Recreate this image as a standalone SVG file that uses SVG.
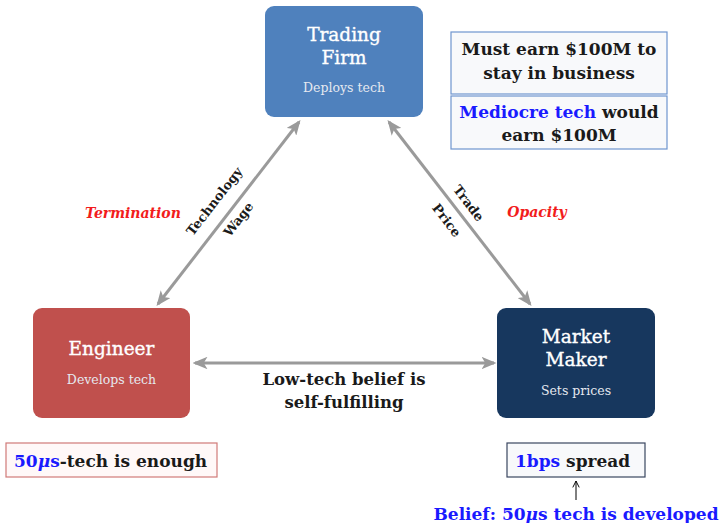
<svg xmlns="http://www.w3.org/2000/svg" width="720" height="523" viewBox="0 0 720 523">
<style>
.t{font-family:"DejaVu Serif","Liberation Serif",serif;}
.title{font-size:18.5px;fill:#fff;stroke:#fff;stroke-width:0.35px;text-anchor:middle;}
.sub{font-size:12.5px;fill:#e6e9f0;text-anchor:middle;}
.b{font-weight:bold;fill:#1a1a1a;}
.lbl{font-size:13px;font-weight:bold;fill:#1a1a1a;text-anchor:middle;}
.red{font-size:14px;font-weight:bold;font-style:italic;fill:#f21c1c;text-anchor:middle;}
.blue{fill:#1a1aff;}
.conn{stroke:#9a9a9a;stroke-width:3;fill:none;marker-start:url(#ah);marker-end:url(#ah);}
.note{fill:#f8f9fb;stroke:#6f95cf;stroke-width:1.2;}
</style>
<defs>
<marker id="ah" viewBox="0 0 12 10" refX="10" refY="5" markerWidth="5" markerHeight="4.2" orient="auto-start-reverse" markerUnits="strokeWidth">
<path d="M0,0 L12,5 L0,10 L3,5 Z" fill="#9a9a9a"/>
</marker>
<marker id="sa" viewBox="0 0 10 10" refX="9" refY="5" markerWidth="8" markerHeight="8" orient="auto" markerUnits="userSpaceOnUse">
<path d="M1,1 L9,5 L1,9" fill="none" stroke="#000" stroke-width="1.2"/>
</marker>
</defs>
<g id="connectors">
<line class="conn" x1="158" y1="304" x2="299" y2="122"/>
<line class="conn" x1="389" y1="122" x2="530" y2="304"/>
<line class="conn" x1="195" y1="363" x2="494" y2="363"/>
<line x1="576" y1="500" x2="576" y2="481" stroke="#000" stroke-width="1" marker-end="url(#sa)"/>
<text class="t lbl" transform="translate(218,204) rotate(-52.3)">Technology</text>
<text class="t lbl" transform="translate(242,222) rotate(-52.3)">Wage</text>
<text class="t lbl" transform="translate(465,206) rotate(52.4)">Trade</text>
<text class="t lbl" transform="translate(443,223) rotate(52.4)">Price</text>
<text class="t red" x="133" y="218">Termination</text>
<text class="t red" x="537" y="217">Opacity</text>
<text class="t b" x="344" y="385" font-size="16.5" text-anchor="middle">Low-tech belief is</text>
<text class="t b" x="344" y="408" font-size="16.5" text-anchor="middle">self-fulfilling</text>
</g>
<g id="trading-firm">
<rect x="265" y="6" width="158" height="111" rx="9" fill="#4f81bd"/>
<text class="t title" x="344" y="41">Trading</text>
<text class="t title" x="344" y="64">Firm</text>
<text class="t sub" x="344" y="92">Deploys tech</text>
</g>
<g id="engineer">
<rect x="33" y="308" width="157" height="110" rx="9" fill="#c0504d"/>
<text class="t title" x="111.5" y="355">Engineer</text>
<text class="t sub" x="111.5" y="384">Develops tech</text>
</g>
<g id="market-maker">
<rect x="497" y="308" width="158" height="110" rx="9" fill="#17375e"/>
<text class="t title" x="576" y="343">Market</text>
<text class="t title" x="576" y="366">Maker</text>
<text class="t sub" x="576" y="395">Sets prices</text>
</g>
<g id="note-must-earn">
<rect class="note" x="451" y="32" width="216" height="62"/>
<text class="t b" x="559" y="55" font-size="17" text-anchor="middle">Must earn $100M to</text>
<text class="t b" x="559" y="79" font-size="17" text-anchor="middle">stay in business</text>
</g>
<g id="note-mediocre">
<rect class="note" x="451" y="96" width="216" height="53"/>
<text class="t b" x="559" y="118" font-size="17" text-anchor="middle"><tspan class="blue">Mediocre tech</tspan> would</text>
<text class="t b" x="559" y="141" font-size="17" text-anchor="middle">earn $100M</text>
</g>
<g id="note-enough">
<rect x="6" y="443" width="211" height="34" fill="#fff8f8" stroke="#d07a78" stroke-width="1.2"/>
<text class="t b" x="14" y="467" font-size="17"><tspan class="blue">50<tspan font-style="italic">μ</tspan>s</tspan>-tech is enough</text>
</g>
<g id="note-spread">
<rect x="507" y="443" width="138" height="34" style="fill:#f8f9fb;stroke:#3a4660;stroke-width:1.2"/>
<text class="t b" x="515" y="467" font-size="17"><tspan class="blue">1bps</tspan> spread</text>
</g>
<g id="belief">
<text class="t b" x="576" y="520" font-size="17" text-anchor="middle" style="fill:#1a1aff">Belief: 50<tspan font-style="italic">μ</tspan>s tech is developed</text>
</g>
</svg>
